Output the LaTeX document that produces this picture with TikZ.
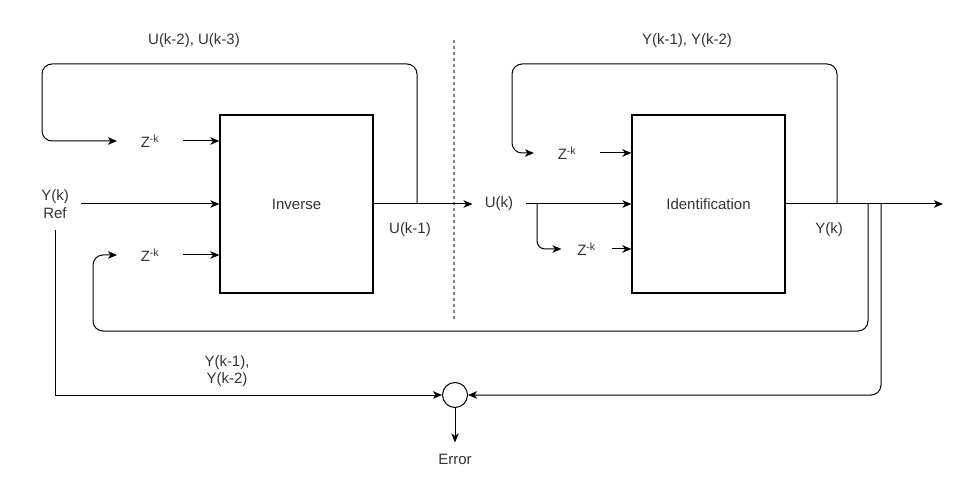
\documentclass[tikz,border=0pt]{standalone}
\usepackage{fontspec}
\setmainfont{Liberation Sans}
\usepackage{tikz}
\usetikzlibrary{calc, positioning, arrows.meta}

\begin{document}
\begin{tikzpicture}[x=1pt, y=-1pt,
        font=\fontsize{15}{17.5}\selectfont,
        >={Stealth[length=9pt, width=7.5pt, inset=2.5pt]},
        line width=1pt,
        block/.style={draw, line width=1.3pt, minimum width=153pt, minimum height=178pt, inner sep=0pt, text=black!80},
        delay/.style={minimum width=65pt, minimum height=20pt, inner sep=0pt, text=black!80},
        lbl/.style={text=black!80, align=center, inner sep=0pt}]
        \useasboundingbox (0,0) rectangle (967,481);
        % blocks
        \node[block] (inv) at (296.5,204) {Inverse};
        \node[block] (ident) at (708.5,204) {Identification};
        \node[draw, circle, minimum size=25pt, inner sep=0pt] (sum) at (455,395) {};
        % delays
        \node[delay] (zu1) at (150,141) {Z\textsuperscript{-k}};
        \node[delay] (zu2) at (150,255) {Z\textsuperscript{-k}};
        \node[delay] (zy1) at (567,153) {Z\textsuperscript{-k}};
        \node[delay, minimum width=49pt] (zy2) at (586.5,249) {Z\textsuperscript{-k}};
        % signal names
        \node[lbl, minimum width=50pt, minimum height=52pt] (yref) at (55,204) {Y(k)\\Ref};
        \node[lbl, minimum width=52pt, minimum height=20pt] (uk) at (499,204) {U(k)};
        \node[lbl] (u23) at (194,41) {U(k-2), U(k-3)};
        \node[lbl] (y12) at (687,41) {Y(k-1), Y(k-2)};
        \node[lbl] (uk1) at (410,230) {U(k-1)};
        \node[lbl] (yk) at (829,230) {Y(k)};
        \node[lbl] (ylag) at (227,371) {Y(k-1),\\Y(k-2)};
        \node[lbl, minimum height=32pt] (err) at (455,459) {Error};
        % taps and ends
        \coordinate (tapU) at (417,204);
        \coordinate (tapK) at (537,204);
        \coordinate (tapY) at (837,204);
        \coordinate (tapF) at (868,204);
        \coordinate (tapE) at (881,204);
        \coordinate (out) at (943,204);
        \coordinate (sepTop) at (454,40);
        \coordinate (sepBot) at (454,320);

        \draw[gray, line width=1.2pt, dash pattern=on 3pt off 3pt] (sepTop) -- (sepBot);
        % inverse side
        \draw[->] (yref.east) -- (inv.west);
        \draw[->] (zu1.east) -- (zu1.east -| inv.west);
        \draw[->] (zu2.east) -- (zu2.east -| inv.west);
        \draw[->] (inv.east) -- (uk.west);
        \draw[->, rounded corners=10pt] (tapU) |- (42,64) |- (zu1.west);
        \draw[->, rounded corners=10pt] (tapF) |- (93,331) |- (zu2.west);
        % identification side
        \draw[->] (uk.east) -- (ident.west);
        \draw[->, rounded corners=8pt] (tapK) |- (zy2.west);
        \draw[->] (zy1.east) -- (zy1.east -| ident.west);
        \draw[->] (zy2.east) -- (zy2.east -| ident.west);
        \draw[->, rounded corners=10pt] (tapY) |- (512,64) |- (zy1.west);
        \draw[->] (ident.east) -- (out);
        % error
        \draw[->] (yref.south) |- (sum.west);
        \draw[->, rounded corners=10pt] (tapE) |- (sum.east);
        \draw[->] (sum.south) -- (err.north);
    \end{tikzpicture}
\end{document}
